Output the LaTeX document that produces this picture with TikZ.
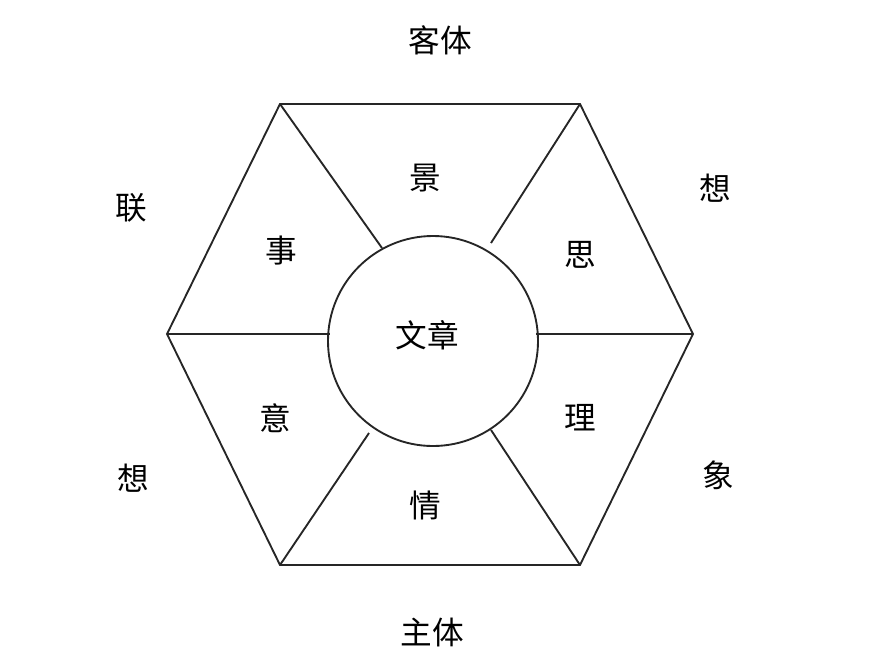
\documentclass[tikz,border=0pt]{standalone}
\usepackage{fontspec}
\newfontfamily\cjk{Noto Sans CJK SC}
\tikzset{
	word/.style={font=\cjk\fontsize{27}{27}\selectfont, inner sep=0pt},
	edge/.style={line width=1.6pt, black!85},
}

\begin{document}
\begin{tikzpicture}[x=0.03cm, y=-0.03cm]
		\useasboundingbox (0,0) rectangle (870,670);
		
			\coordinate (A) at (280,104);
			\coordinate (B) at (580,104);
			\coordinate (C) at (693,334);
			\coordinate (D) at (580,565);
			\coordinate (E) at (280,565);
			\coordinate (F) at (167,334);
			\node [circle, edge, draw, minimum size=6.3cm, inner sep=0pt] (wz) at (433,341) {};
			\coordinate (s1) at (382,248);
			\coordinate (s2) at (491,243);
			\coordinate (s3) at (369,433);
			\coordinate (s4) at (491,430);
			\coordinate (sl) at (330,334);
			\coordinate (sr) at (536,334);
			
			\draw [edge] (A) -- (B) -- (C) -- (D) -- (E) -- (F) -- cycle;
			\draw [edge] (A) -- (s1);
			\draw [edge] (B) -- (s2);
			\draw [edge] (E) -- (s3);
			\draw [edge] (D) -- (s4);
			\draw [edge] (F) -- (sl);
			\draw [edge] (C) -- (sr);
			
			\node [word] (wenzhang) at (427,335) {文章};
			\node [word] (keti) at (440,40) {客体};
			\node [word] (zhuti) at (432,632) {主体};
			\node [word] (lian) at (131,208) {联};
			\node [word] (xiangl) at (133,478) {想};
			\node [word] (xiangr) at (715,188) {想};
			\node [word] (xiang) at (718,475) {象};
			\node [word] (jing) at (425,178) {景};
			\node [word] (si) at (580,255) {思};
			\node [word] (li) at (580,418) {理};
			\node [word] (qing) at (425,505) {情};
			\node [word] (yi) at (275,418) {意};
			\node [word] (shi) at (281,251) {事};
			
	\end{tikzpicture}
\end{document}
